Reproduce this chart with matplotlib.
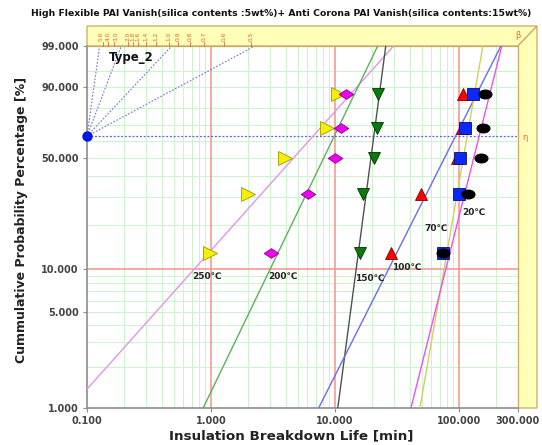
import numpy as np
import matplotlib
matplotlib.use("Agg")
import matplotlib.pyplot as plt
from matplotlib.path import Path
from matplotlib.patches import Polygon
from matplotlib.ticker import NullLocator, FixedLocator
from matplotlib.transforms import ScaledTranslation

# ---------------- data ----------------
title = "High Flexible PAI Vanish(silica contents :5wt%)+ Anti Corona PAI Vanish(silica contents:15wt%)"
temps = ["250℃", "200℃", "150℃", "100℃", "70℃", "20℃"]
median_rank = [12.96, 31.48, 50.0, 68.52, 87.04]          # [%]
life_250 = [0.98, 1.99, 3.95, 8.6, 10.6]                   # [min]
life_200 = [3.05, 6.05, 10.0, 11.1, 12.4]
life_150 = [15.9, 16.7, 20.7, 21.7, 22.1]
life_100 = [28.3, 49.4, 97.0, 106.0, 108.0]
life_70 = [74.0, 100.0, 102.0, 112.0, 131.0]
life_20 = [74.0, 119.0, 150.0, 156.0, 163.0]
beta_fit = [1.02, 1.89, 6.87, 1.81, 5.24, 3.63]
eta_fit = [6.65, 9.87, 20.6, 93.9, 116.7, 145.8]
beta_scale = [5.0, 4.0, 3.0, 2.0, 1.8, 1.6, 1.4, 1.2, 1.0, 0.9, 0.8, 0.7, 0.6, 0.5]
beta_guides = [6.5, 2.4, 0.97, 0.49]
y_ticks = [1, 5, 10, 50, 90, 99]
x_ticks = [0.1, 1, 10, 100, 300]
y_grid = [2, 3, 4, 5, 6, 7, 8, 9, 20, 30, 40, 50, 60, 70, 80, 90, 95]
pole_x = 0.1
pole_F = 63.21

W, H = 542, 445
fig = plt.figure(figsize=(W / 100, H / 100), dpi=100)
fig.patch.set_facecolor("white")


def fx(x):
    return x / W


def fy(y):
    return 1 - y / H


ax = fig.add_axes([fx(87), fy(408), (518 - 87) / W, (408 - 46) / H])
ax.set_zorder(1)


def fwd(p):
    p = np.clip(np.asarray(p, dtype=float), 1e-9, 100 - 1e-9)
    return np.log(-np.log(1 - p / 100.0))


def inv(w):
    return 100.0 * (1 - np.exp(-np.exp(np.asarray(w, dtype=float))))


ax.set_xscale("log")
ax.set_yscale("function", functions=(fwd, inv))
ax.set_xlim(0.1, 300)
ax.set_ylim(1, 99)

# ---------------- grid ----------------
grid_green = "#cdf2cd"
grid_red = "#f29488"
for d in [0.1, 1, 10, 100]:
    for k in range(2, 10):
        v = k * d
        if v < 300:
            ax.axvline(v, color=grid_green, lw=0.7, zorder=1)
for v in [1, 10, 100]:
    ax.axvline(v, color=grid_red, lw=1.1, zorder=1.5)
for g in y_grid:
    ax.axhline(g, color=grid_green, lw=0.7, zorder=1)
ax.axhline(10, color=grid_red, lw=1.1, zorder=1.5)

# ---------------- eta line, pole, beta guides ----------------
ax.axhline(pole_F, color="#5a5af0", lw=0.9, ls=(0, (1.5, 1.5)), zorder=2)
wtop = float(fwd(99))
for b in beta_guides:
    t_end = pole_x * np.exp(wtop / b)
    ax.plot([pole_x, t_end], [pole_F, 99], color="#7070e0", lw=0.8,
            ls=(0, (1.5, 1.5)), zorder=2, clip_on=False)
ax.plot([pole_x], [pole_F], "o", color="#0018e0", ms=6.5, zorder=6, clip_on=False)

# ---------------- fit lines ----------------
line_colors = ["#e594e5", "#5cb05c", "#505050", "#6a6af5", "#d0d060", "#f050f0"]
wv = np.linspace(-4.9, 1.75, 60)
for b, e, c in zip(beta_fit, eta_fit, line_colors):
    t = e * np.exp(wv / b)
    F = 100 * (1 - np.exp(-np.exp(wv)))
    ax.plot(t, F, color=c, lw=1.0, zorder=3)

# ---------------- markers ----------------
diamond = Path([(0, 1), (1.5, 0), (0, -1), (-1.5, 0), (0, 1)],
               [Path.MOVETO, Path.LINETO, Path.LINETO, Path.LINETO, Path.CLOSEPOLY])
th = np.linspace(0, 2 * np.pi, 40)
ellipse = Path(np.column_stack([1.45 * np.cos(th), np.sin(th)]))

series = [
    (life_250, ">", "#f5f000", "#9a9a00", 9.5),
    (life_200, diamond, "#f000f0", "#900090", 10.5),
    (life_150, "v", "#0a7a0a", "#003000", 8.5),
    (life_100, "^", "#ff0000", "#800000", 8.5),
    (life_70, "s", "#0a28ff", "#101050", 8),
    (life_20, ellipse, "#000000", "#000000", 9.5),
]
for i, (vals, m, fc, ec, ms) in enumerate(series):
    ax.plot(vals, median_rank, ls="none", marker=m, ms=ms, mfc=fc, mec=ec,
            mew=0.6, zorder=5 + i * 0.1, clip_on=False)

# ---------------- axes styling ----------------
band_fc = "#ffffb8"
band_ec = "#c8aa66"
for s in ["top", "right"]:
    ax.spines[s].set_color(band_ec)
    ax.spines[s].set_linewidth(0.9)
for s in ["left", "bottom"]:
    ax.spines[s].set_color("#8c8c8c")
    ax.spines[s].set_linewidth(1.2)

ax.yaxis.set_major_locator(FixedLocator(y_ticks))
ax.yaxis.set_minor_locator(NullLocator())
ax.xaxis.set_major_locator(FixedLocator(x_ticks))
ax.xaxis.set_minor_locator(NullLocator())
ax.set_yticklabels(["%.3f" % v for v in y_ticks])
ax.set_xticklabels(["%.3f" % v for v in x_ticks])
ax.tick_params(axis="both", colors="#8c8c8c", length=3, width=0.8,
               labelsize=7, labelcolor="#444444", pad=3)
for lab in ax.get_xticklabels() + ax.get_yticklabels():
    lab.set_fontweight("bold")

fig.text(fx(291), fy(436), "Insulation Breakdown Life [min]", ha="center",
         va="center", fontsize=9.7, fontweight="bold", color="#222222")
fig.text(fx(22), fy(220), "Cummulative Probability Percentage [%]", ha="center",
         va="center", rotation=90, fontsize=9, fontweight="bold", color="#222222")
fig.text(fx(281), fy(14), title, ha="center", va="center", fontsize=6.7,
         fontweight="bold", color="#111111")

# ---------------- yellow 3D frame ----------------
top_band = Polygon([(fx(87), fy(26)), (fx(537), fy(26)), (fx(518), fy(46)), (fx(87), fy(46))],
                   closed=True, transform=fig.transFigure, fc=band_fc, ec=band_ec, lw=0.9,
                   zorder=0)
right_band = Polygon([(fx(518), fy(46)), (fx(537), fy(26)), (fx(537), fy(408)), (fx(518), fy(408))],
                     closed=True, transform=fig.transFigure, fc=band_fc, ec=band_ec, lw=0.9,
                     zorder=0)
fig.add_artist(top_band)
fig.add_artist(right_band)

# beta scale on top band
xt = ax.get_xaxis_transform()
nudge_px = {5.0: -2.0, 4.0: 0.5, 3.0: 1.5}
for b in beta_scale:
    t = pole_x * np.exp(wtop / b)
    ax.plot([t, t], [1.0, 1.012], color="#d07040", lw=0.6, transform=xt,
            clip_on=False, zorder=10)
    off = ScaledTranslation(nudge_px.get(b, 0.0) / 100.0, 0, fig.dpi_scale_trans)
    ax.text(t, 1.015, "%.1f" % b, transform=xt + off, rotation=90, ha="center",
            va="bottom", fontsize=4.2, color="#e06030", zorder=10, clip_on=False)
fig.text(fx(518), fy(36), "β", fontsize=6, color="#e07030", ha="center", va="center",
         zorder=3)
fig.text(fx(525), fy(137), "η", fontsize=6, color="#e07030", ha="center", va="center",
         zorder=3)

# ---------------- annotations ----------------
ax.text((109 - 87) / 431, (408 - 58) / 362, "Type_2", transform=ax.transAxes,
        fontsize=8.5, fontweight="bold", color="#111111", ha="left", va="center")
label_pos = [(207, 276), (283, 276), (370, 278), (407, 267), (436, 228), (474, 212)]
for txt, (px, py) in zip(temps, label_pos):
    ax.text((px - 87) / 431, (408 - py) / 362, txt, transform=ax.transAxes,
            fontsize=6.5, fontweight="bold", color="#222222", ha="center",
            va="center", zorder=8)

fig.savefig("out.png", dpi=100)
